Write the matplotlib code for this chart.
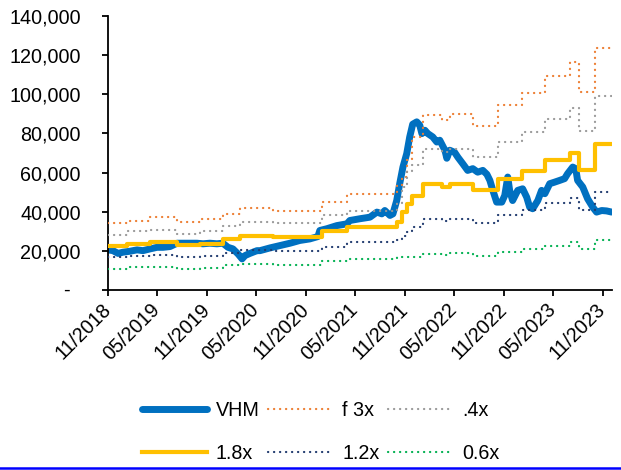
import matplotlib
matplotlib.use('Agg')
import matplotlib.pyplot as plt
import matplotlib.dates as mdates
import matplotlib.ticker as ticker
from matplotlib.lines import Line2D
import numpy as np

plt.rcParams['font.family'] = ['Liberation Sans', 'DejaVu Sans']

# VHM share price (VND)
price_dates = [
    '2018-11-01', '2018-11-19', '2018-12-08', '2018-12-26', '2019-01-21', '2019-02-16',
    '2019-03-10', '2019-04-05', '2019-05-01', '2019-05-23', '2019-06-18', '2019-07-14',
    '2019-08-05', '2019-08-31', '2019-09-25', '2019-10-18', '2019-11-12', '2019-12-08',
    '2019-12-30', '2020-01-18', '2020-02-05', '2020-02-24', '2020-03-10', '2020-03-21',
    '2020-04-08', '2020-05-04', '2020-05-15', '2020-06-21', '2020-07-28', '2020-09-03',
    '2020-10-09', '2020-11-15', '2020-12-15', '2020-12-22', '2021-01-17', '2021-02-23',
    '2021-04-01', '2021-04-12', '2021-05-19', '2021-06-25', '2021-07-21', '2021-08-08',
    '2021-08-19', '2021-09-07', '2021-09-18', '2021-10-02', '2021-10-13', '2021-10-25',
    '2021-11-08', '2021-11-19', '2021-11-30', '2021-12-15', '2021-12-26', '2022-01-03',
    '2022-01-14', '2022-01-25', '2022-02-12', '2022-02-27', '2022-03-10', '2022-03-29',
    '2022-04-05', '2022-04-16', '2022-05-04', '2022-05-16', '2022-06-03', '2022-06-21',
    '2022-07-10', '2022-07-28', '2022-08-16', '2022-08-31', '2022-09-11', '2022-09-22',
    '2022-10-06', '2022-10-25', '2022-11-05', '2022-11-16', '2022-11-23', '2022-12-04',
    '2022-12-23', '2023-01-10', '2023-01-25', '2023-02-05', '2023-02-16', '2023-03-07',
    '2023-03-21', '2023-04-02', '2023-04-20', '2023-05-08', '2023-05-27', '2023-06-14',
    '2023-06-25', '2023-07-14', '2023-07-25', '2023-08-01', '2023-08-20', '2023-09-07',
    '2023-09-26', '2023-10-10', '2023-10-29', '2023-11-16', '2023-12-05',
]
price = [
    20500, 20100, 18700, 19300, 19800, 20500,
    20100, 21000, 21800, 21800, 22200, 23900,
    23900, 23900, 23900, 23600, 23900, 23600,
    23900, 21800, 21000, 18400, 15900, 17600,
    18700, 20100, 20100, 21500, 22700, 23900,
    25300, 26100, 27300, 30400, 31300, 32900,
    33800, 35500, 36400, 37200, 39800, 38900,
    40600, 38100, 38900, 45700, 54300, 62800,
    69700, 78200, 84700, 85900, 84200, 79900,
    81600, 79900, 78200, 75600, 76500, 71400,
    67300, 71400, 70300, 67800, 64500, 61100,
    62000, 60200, 61100, 59100, 56000, 50900,
    44900, 44900, 48300, 57700, 50900, 45700,
    50900, 51700, 47400, 42300, 41500, 45700,
    50900, 49200, 54300, 55100, 56000, 56900,
    59400, 62800, 62000, 56000, 52600, 46600,
    42300, 39800, 40600, 40400, 39800,
]

# P/B band levels, stepping at each reporting date
band_dates = [
    '2018-11-01', '2019-01-10', '2019-04-05', '2019-07-14', '2019-10-06', '2019-12-30',
    '2020-03-02', '2020-07-02', '2020-12-30', '2021-04-01', '2021-10-02', '2021-10-21',
    '2021-11-08', '2021-11-27', '2022-01-06', '2022-03-20', '2022-04-16', '2022-07-10',
    '2022-10-10', '2023-01-07', '2023-04-02', '2023-07-03', '2023-08-05', '2023-10-03',
    '2023-12-05',
]
band_3x = [
    34100, 35500, 37200, 34600, 36400, 38900, 41900, 40600, 44900, 49200, 53400, 57700,
    66200, 78200, 89300, 86700, 89800, 83800, 94400, 100400, 109300, 116300, 101200, 123500,
    123500,
]
band_24x = [
    28300, 30100, 30700, 28800, 29900, 32700, 34600, 34100, 38100, 40600, 44200, 52400,
    60600, 63700, 72200, 70500, 72200, 67800, 75800, 80700, 87600, 93200, 81300, 99000,
    99000,
]
band_18x = [
    22400, 23700, 24500, 23100, 23500, 26000, 27600, 27000, 29900, 32100, 34600, 40100,
    43700, 47800, 53900, 52400, 54300, 50900, 56900, 60600, 66200, 70100, 61100, 74600,
    74600,
]
band_12x = [
    16700, 17600, 18100, 17100, 17300, 19000, 20500, 20100, 22200, 24400, 25300, 27800,
    29500, 32100, 36400, 35100, 36400, 34000, 38100, 41000, 44400, 47100, 41000, 50000,
    50000,
]
band_06x = [
    10800, 11800, 11900, 10900, 11300, 12700, 13500, 13000, 15000, 15800, 16700, 17100,
    17100, 17100, 18400, 18100, 18700, 17600, 19300, 21000, 22700, 24400, 21000, 25600,
    25600,
]

tick_dates = ['2018-11-01', '2019-05-01', '2019-11-01', '2020-05-01', '2020-11-01', '2021-05-01',
              '2021-11-01', '2022-05-01', '2022-11-01', '2023-05-01', '2023-11-01']

pd_ = np.array(price_dates, dtype='datetime64[D]')
bd = np.array(band_dates, dtype='datetime64[D]')
td = np.array(tick_dates, dtype='datetime64[D]')

FS = 14.2

fig = plt.figure(figsize=(6.21, 4.70), dpi=100)
ax = fig.add_axes([0.174, 0.383, 0.8115, 0.583])

dot = (0, (0.1, 2.6))
ax.plot(pd_, price, color='#0070C0', lw=5.0, solid_capstyle='round', solid_joinstyle='round',
        label='VHM', zorder=2)
ax.step(bd, band_18x, where='post', color='#FFC000', lw=3.0, label='1.8x', zorder=3)
ax.step(bd, band_3x, where='post', color='#ED7D31', lw=1.6, ls=dot, dash_capstyle='round',
        label='f 3x', zorder=3)
ax.step(bd, band_12x, where='post', color='#1F3A6E', lw=1.6, ls=dot, dash_capstyle='round',
        label='1.2x', zorder=3)
ax.step(bd, band_24x, where='post', color='#999999', lw=1.6, ls=dot, dash_capstyle='round',
        label='.4x', zorder=3)
ax.step(bd, band_06x, where='post', color='#00B050', lw=1.6, ls=dot, dash_capstyle='round',
        label='0.6x', zorder=3)

ax.set_ylim(0, 140000)
ax.set_xlim(np.datetime64('2018-11-01'), np.datetime64('2023-12-06'))
ax.yaxis.set_major_locator(ticker.MultipleLocator(20000))
ax.yaxis.set_major_formatter(ticker.FuncFormatter(
    lambda v, p: '' if v == 0 else f'{v:,.0f}'))
# zero shown as a dash, set a little in from the other labels
ax.annotate('-', xy=(0, 0), xycoords=('axes fraction', 'data'), xytext=(-38, 0),
            textcoords='offset pixels', ha='right', va='center', fontsize=FS)
ax.set_xticks(td)
ax.xaxis.set_major_formatter(mdates.DateFormatter('%m/%Y'))

for s in ['top', 'right']:
    ax.spines[s].set_visible(False)
for s in ['left', 'bottom']:
    ax.spines[s].set_linewidth(1.3)
    ax.spines[s].set_color('black')

ax.tick_params(axis='both', direction='out', length=4, width=1.3, labelsize=FS,
               colors='black')
ax.tick_params(axis='y', pad=15.5)
ax.tick_params(axis='x', pad=8)
plt.setp(ax.get_xticklabels(), rotation=45, ha='right', va='center', rotation_mode='anchor')

leg = fig.legend(loc='upper left', bbox_to_anchor=(0.228, 0.146), ncol=3, frameon=False,
                 fontsize=FS, handlelength=3.3, handletextpad=0.45, columnspacing=0.45,
                 labelspacing=1.2, borderpad=0.0, borderaxespad=0.0)

# thin blue rule along the bottom edge
fig.add_artist(Line2D([0, 1], [0.004, 0.004], color='#0000FF', lw=1.8,
                      transform=fig.transFigure))

fig.savefig('out.png', dpi=100)
